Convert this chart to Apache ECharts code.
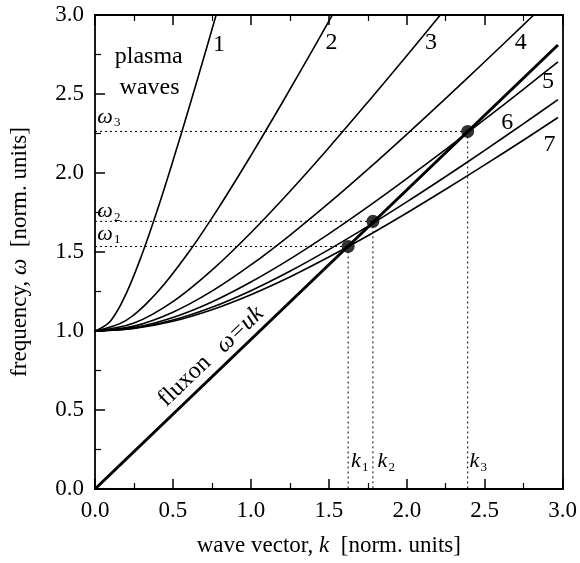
<!DOCTYPE html>
<html>
<head>
<meta charset="utf-8">
<script src="https://cdn.jsdelivr.net/npm/echarts@6/dist/echarts.min.js"></script>
<style>html,body{margin:0;padding:0;background:#fff}#c{width:580px;height:563px}</style>
</head>
<body>
<div id="c"></div>
<script>
// ---- data ----
const xTicks = [0, 0.5, 1.0, 1.5, 2.0, 2.5, 3.0];
const yTicks = [0, 0.5, 1.0, 1.5, 2.0, 2.5, 3.0];

const k1 = [0, 0.1, 0.2, 0.3, 0.4, 0.5, 0.6, 0.7, 0.78];
const w1 = [1, 1.064, 1.237, 1.481, 1.766, 2.077, 2.402, 2.737, 3.010];

const k2 = [0, 0.2, 0.4, 0.6, 0.8, 1.0, 1.2, 1.4, 1.55];
const w2 = [1, 1.067, 1.246, 1.497, 1.791, 2.110, 2.443, 2.786, 3.048];

const k3 = [0, 0.25, 0.5, 0.75, 1.0, 1.25, 1.5, 1.75, 2.0, 2.25];
const w3 = [1, 1.050, 1.186, 1.385, 1.622, 1.883, 2.160, 2.448, 2.742, 3.042];

const k4 = [0, 0.25, 0.5, 0.75, 1.0, 1.25, 1.5, 1.75, 2.0, 2.25, 2.5, 2.75, 2.85];
const w4 = [1, 1.031, 1.119, 1.252, 1.418, 1.606, 1.809, 2.023, 2.245, 2.472, 2.704, 2.939, 3.034];

const k567 = [0, 0.25, 0.5, 0.75, 1.0, 1.25, 1.5, 1.75, 2.0, 2.25, 2.5, 2.75, 2.97];
const w5 = [1, 1.022, 1.086, 1.184, 1.310, 1.455, 1.615, 1.786, 1.965, 2.149, 2.339, 2.531, 2.703];
const w6 = [1, 1.018, 1.069, 1.150, 1.255, 1.378, 1.515, 1.662, 1.817, 1.978, 2.143, 2.313, 2.464];
const w7 = [1, 1.016, 1.062, 1.135, 1.230, 1.342, 1.468, 1.603, 1.747, 1.897, 2.051, 2.209, 2.351];

const fluxonK = [0, 2.97];
const fluxonW = [0, 2.81];

const crossK = [1.624, 1.783, 2.391];
const crossW = [1.535, 1.694, 2.263];

const curveNames = ['1', '2', '3', '4', '5', '6', '7'];
const curveLabelPos = [[0.796, 2.81], [1.518, 2.825], [2.156, 2.825], [2.732, 2.825], [2.906, 2.578], [2.645, 2.318], [2.916, 2.179]];

// ---- build ----
const FONT = '"Liberation Serif", "Times New Roman", serif';
function pairs(ks, ws) { return ks.map((k, i) => [k, ws[i]]); }
const curves = [[k1, w1], [k2, w2], [k3, w3], [k4, w4], [k567, w5], [k567, w6], [k567, w7]];

const series = [];
curves.forEach((c, i) => {
  series.push({
    type: 'line', data: pairs(c[0], c[1]), smooth: 0.35, showSymbol: false,
    lineStyle: { color: '#000', width: 1.6 }, clip: true, silent: true, z: 3
  });
});
series.push({
  type: 'line', data: pairs(fluxonK, fluxonW), showSymbol: false,
  lineStyle: { color: '#000', width: 3 }, clip: true, silent: true, z: 4
});
// dotted guide lines
crossK.forEach((k, i) => {
  series.push({
    type: 'line', data: [[0, crossW[i]], [k, crossW[i]]], showSymbol: false,
    lineStyle: { color: '#000', width: 1, type: [2, 3] }, silent: true, z: 2
  });
  series.push({
    type: 'line', data: [[k, crossW[i]], [k, 0]], showSymbol: false,
    lineStyle: { color: '#000', width: 1, type: [2, 3] }, silent: true, z: 2
  });
});
series.push({
  type: 'scatter', data: pairs(crossK, crossW), symbol: 'circle', symbolSize: 13,
  itemStyle: { color: '#000' }, silent: true, z: 6
});

const LBL = 23;
const axisCommon = {
  min: 0, max: 3, interval: 0.5,
  axisLine: { show: true, onZero: false, lineStyle: { color: '#000', width: 1.8 } },
  axisTick: { show: true, inside: true, length: 10, lineStyle: { color: '#000', width: 1.5 } },
  minorTick: { show: true, splitNumber: 2, length: 6, lineStyle: { color: '#000', width: 1.2 } },
  splitLine: { show: false },
  axisLabel: { color: '#000', fontFamily: FONT, fontSize: LBL, formatter: v => v.toFixed(1) }
};
const nameRich = {
  n: { fontFamily: FONT, fontSize: LBL, color: '#000' },
  i: { fontFamily: FONT, fontSize: LBL, color: '#000', fontStyle: 'italic' }
};

const option = {
  animation: false,
  backgroundColor: '#fff',
  grid: { left: 93, right: 15, top: 15, bottom: 74, containLabel: false },
  xAxis: [
    Object.assign({}, axisCommon, {
      type: 'value', position: 'bottom',
      axisLabel: Object.assign({}, axisCommon.axisLabel, { margin: 10 }),
      name: '{n|wave vector, }{i|k}{n|  [norm. units]}',
      nameLocation: 'middle', nameGap: 45,
      nameTextStyle: { rich: nameRich }
    }),
    Object.assign({}, axisCommon, {
      type: 'value', position: 'top', axisLabel: { show: false }
    })
  ],
  yAxis: [
    Object.assign({}, axisCommon, {
      type: 'value', position: 'left',
      axisLabel: Object.assign({}, axisCommon.axisLabel, { margin: 11 }),
      name: '{n|frequency, }{i|ω}{n|  [norm. units]}',
      nameLocation: 'middle', nameGap: 64, nameRotate: 90,
      nameTextStyle: { rich: nameRich }
    }),
    {
      type: 'value', position: 'right', min: 0, max: 3,
      axisLine: { show: true, onZero: false, lineStyle: { color: '#000', width: 1.8 } },
      axisTick: { show: false }, axisLabel: { show: false }, splitLine: { show: false }
    }
  ],
  series: series
};

const chart = echarts.init(document.getElementById('c'), null, { renderer: 'canvas' });
option.series.forEach(s => { s.xAxisIndex = 0; s.yAxisIndex = 0; });
chart.setOption(option);

// ---- annotations positioned via data coordinates ----
function px(k, w) { return chart.convertToPixel({ xAxisIndex: 0, yAxisIndex: 0 }, [k, w]); }
const g = [];
const ANN = 24;
const txtStyle = (extra) => Object.assign({ fontFamily: FONT, fontSize: ANN, fill: '#000' }, extra);

curveNames.forEach((n, i) => {
  const p = px(curveLabelPos[i][0], curveLabelPos[i][1]);
  g.push({ type: 'text', x: p[0], y: p[1], style: txtStyle({ text: n, align: 'center', verticalAlign: 'middle' }), z: 10 });
});
let p = px(0.345, 2.735);
g.push({ type: 'text', x: p[0], y: p[1], style: txtStyle({ text: 'plasma', align: 'center', verticalAlign: 'middle' }), z: 10 });
p = px(0.35, 2.54);
g.push({ type: 'text', x: p[0], y: p[1], style: txtStyle({ text: 'waves', align: 'center', verticalAlign: 'middle' }), z: 10 });

// symbol with subscript: main glyph + small index placed lower-right
function subLabel(sym, idx, k, w, dx) {
  const q = px(k, w);
  g.push({ type: 'text', x: q[0] - 4, y: q[1], style: { text: sym, fontFamily: FONT, fontSize: 22, fontStyle: 'italic', fill: '#000', align: 'center', verticalAlign: 'middle' }, z: 10 });
  g.push({ type: 'text', x: q[0] + dx, y: q[1] + 6, style: { text: idx, fontFamily: FONT, fontSize: 13, fill: '#000', align: 'left', verticalAlign: 'middle' }, z: 10 });
}
const wLabelPos = [[0.09, 1.615], [0.09, 1.755], [0.09, 2.355]];
['1', '2', '3'].forEach((s, i) => subLabel('ω', s, wLabelPos[i][0], wLabelPos[i][1], 5));
const kLabelPos = [[1.70, 0.175], [1.87, 0.175], [2.46, 0.175]];
['1', '2', '3'].forEach((s, i) => subLabel('k', s, kLabelPos[i][0], kLabelPos[i][1], 2));

// fluxon label rotated along the line
const a = px(0, 0), b = px(3, 3 * fluxonW[1] / fluxonK[1]);
const ang = Math.atan2(a[1] - b[1], b[0] - a[0]);
p = px(0.575, 0.683);
g.push({ type: 'text', x: p[0], y: p[1], rotation: ang, style: txtStyle({ text: 'fluxon', align: 'center', verticalAlign: 'middle' }), z: 10 });
p = px(0.93, 1.008);
g.push({ type: 'text', x: p[0], y: p[1], rotation: ang, style: txtStyle({ text: 'ω=uk', fontStyle: 'italic', align: 'center', verticalAlign: 'middle' }), z: 10 });

chart.setOption({ graphic: g });
</script>
</body>
</html>
